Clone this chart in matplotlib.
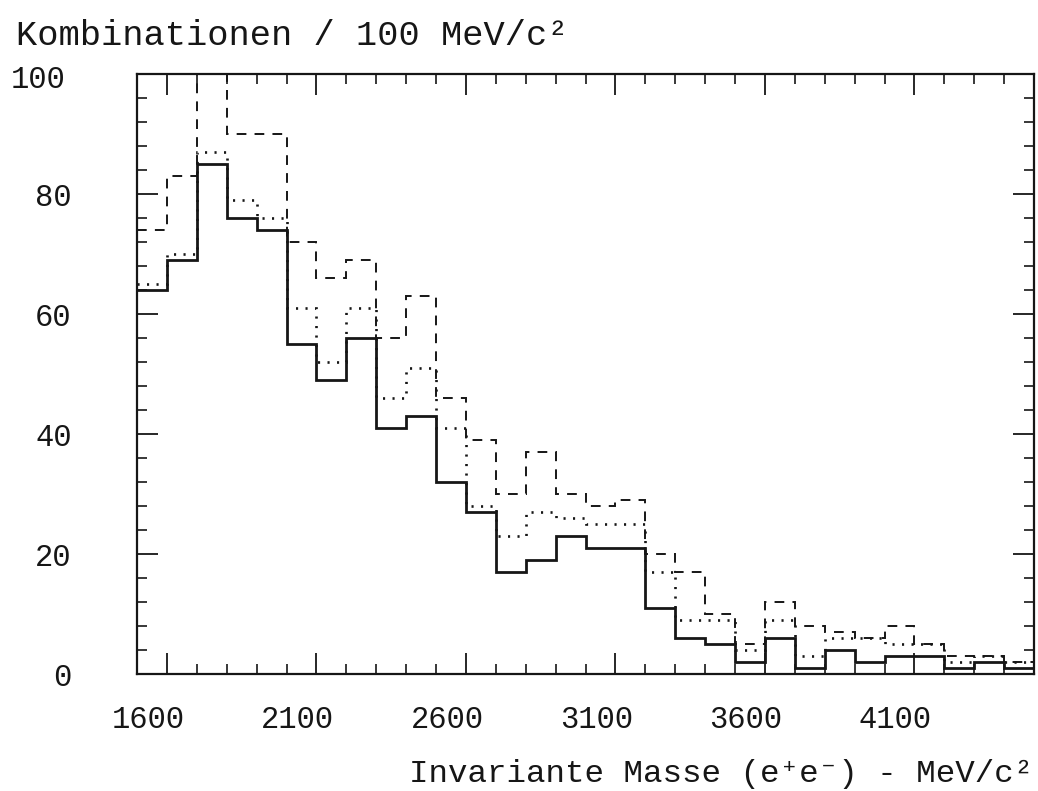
import matplotlib
matplotlib.use("Agg")
import matplotlib.pyplot as plt
from matplotlib.ticker import MultipleLocator
from matplotlib.transforms import ScaledTranslation

# ---- data (counts per 100 MeV bin, 1500 ... 4500 MeV) ----
bin_edges = list(range(1500, 4600, 100))
solid = [64, 69, 85, 76, 74, 55, 49, 56, 41, 43, 32, 27, 17, 19, 23,
         21, 21, 11, 6, 5, 2, 6, 1, 4, 2, 3, 3, 1, 2, 1]
dotted = [65, 70, 87, 79, 76, 61, 52, 61, 46, 51, 41, 28, 23, 27, 26,
          25, 25, 17, 9, 9, 4, 9, 3, 6, 6, 5, 5, 2, 3, 2]
dashed = [74, 83, 105, 90, 90, 72, 66, 69, 56, 63, 46, 39, 30, 37, 30,
          28, 29, 20, 17, 10, 5, 12, 8, 7, 6, 8, 5, 3, 3, 2]
x_major = [1600, 2100, 2600, 3100, 3600, 4100]
x_labels = ["1600", "2100", "2600", "3100", "3600", "4100"]
y_major = [0, 20, 40, 60, 80, 100]
y_labels = ["0", "20", "40", "60", "80", "100"]

FAM = ["Liberation Mono", "DejaVu Sans Mono"]
INK = "#161616"

fig = plt.figure(figsize=(10.38, 7.91), dpi=100)
fig.patch.set_facecolor("white")
ax = fig.add_axes([137 / 1038, 1 - 674 / 791, 897 / 1038, 600 / 791])

ax.stairs(dashed, bin_edges, baseline=None, color=INK, lw=1.4,
          linestyle=(0, (5, 4.2)))
ax.stairs(dotted, bin_edges, baseline=None, color=INK, lw=1.9,
          linestyle=(0, (0.8, 2.8)))
ax.stairs(solid, bin_edges, baseline=None, color=INK, lw=2.0)

ax.set_xlim(1500, 4500)
ax.set_ylim(0, 100)

ax.set_xticks(x_major)
ax.set_xticklabels(x_labels, family=FAM, fontsize=22, color=INK)
ax.xaxis.set_minor_locator(MultipleLocator(100))
ax.set_yticks(y_major)
ax.set_yticklabels(y_labels, family=FAM, fontsize=22, color=INK)
ax.yaxis.set_minor_locator(MultipleLocator(4))

ax.tick_params(which="both", direction="in", top=True, right=True,
               color=INK)
ax.tick_params(which="major", length=15, width=1.3)
ax.tick_params(which="minor", length=7.5, width=1.2)
ax.tick_params(axis="x", which="major", pad=22)
ax.tick_params(axis="y", which="major", pad=47)

# labels in the original sit slightly left of their tick marks
shift = ScaledTranslation(-19 / 100, 0, fig.dpi_scale_trans)
for lab in ax.get_xticklabels():
    lab.set_transform(lab.get_transform() + shift)
top_shift = ScaledTranslation(-6 / 100, -3 / 100, fig.dpi_scale_trans)
ylabs = ax.get_yticklabels()
ylabs[-1].set_transform(ylabs[-1].get_transform() + top_shift)

for sp in ax.spines.values():
    sp.set_linewidth(1.6)
    sp.set_color(INK)

fig.text(16 / 1038, 1 - 45 / 791, "Kombinationen / 100 MeV/c²",
         family=FAM, fontsize=25.5, color=INK, va="baseline", ha="left")
fig.text(1033 / 1038, 1 - 782 / 791, "Invariante Masse (e⁺e⁻) - MeV/c²",
         family=FAM, fontsize=23.4, color=INK, va="baseline", ha="right")

fig.savefig("out.png", dpi=100, facecolor="white")
